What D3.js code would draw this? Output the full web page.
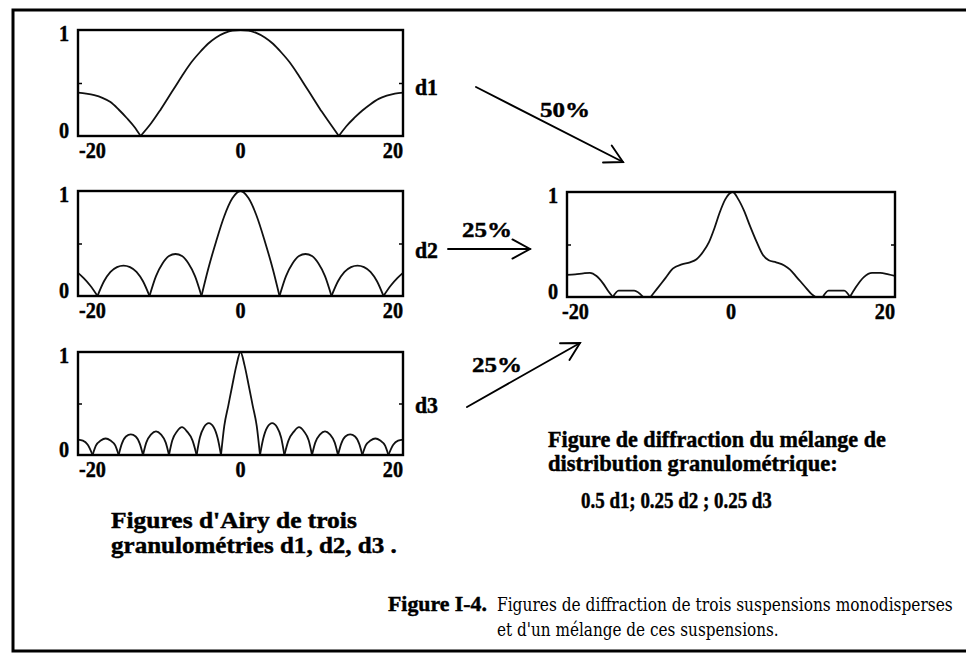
<!DOCTYPE html>
<html><head><meta charset="utf-8">
<script src="https://cdn.jsdelivr.net/npm/d3@7"></script>
<style>body{margin:0;background:#fff}</style>
</head><body>
<svg id="c" width="966" height="662"></svg>
<script>
// ---------- data ----------
const xTicks = [-20, 0, 20];
const yTicks = [0, 1];

// Airy pattern, granulometry d1
const d1 = [[-20,0.41],[-19,0.40],[-18,0.385],[-17,0.36],[-16,0.32],[-15,0.25],[-14,0.17],[-13,0.08],[-12.3,0],
  [-11,0.12],[-10,0.23],[-9,0.35],[-8,0.47],[-7,0.59],[-6,0.70],[-5,0.79],[-4,0.87],[-3,0.93],[-2,0.97],[-1,0.995],[0,1],
  [1,0.995],[2,0.97],[3,0.93],[4,0.87],[5,0.79],[6,0.70],[7,0.59],[8,0.47],[9,0.35],[10,0.23],[11,0.12],[12.1,0],
  [13,0.09],[14,0.17],[15,0.24],[16,0.30],[17,0.35],[18,0.38],[19,0.40],[20,0.41]];

// granulometry d2
const d2 = [[-20,0.22],[-19.3,0.17],[-18.5,0.10],[-17.6,0],
  [-16.8,0.14],[-16.0,0.23],[-15.2,0.275],[-14.4,0.29],[-13.6,0.275],[-12.8,0.23],[-12.0,0.14],[-11.2,0],
  [-10.4,0.19],[-9.6,0.31],[-8.8,0.38],[-8.0,0.40],[-7.2,0.38],[-6.4,0.31],[-5.6,0.19],[-4.8,0],
  [-4,0.25],[-3,0.52],[-2,0.76],[-1,0.93],[0,1],[1,0.93],[2,0.76],[3,0.52],[4,0.25],[4.8,0],
  [5.6,0.19],[6.4,0.31],[7.2,0.38],[8.0,0.40],[8.8,0.38],[9.6,0.31],[10.4,0.19],[11.2,0],
  [12.0,0.14],[12.8,0.23],[13.6,0.275],[14.4,0.29],[15.2,0.275],[16.0,0.23],[16.8,0.14],[17.6,0],
  [18.5,0.10],[19.3,0.17],[20,0.22]];

// granulometry d3
const d3s = [[-20,0.15],[-19.4,0.14],[-18.8,0.10],[-18.2,0],
  [-17.8,0.09],[-17.2,0.14],[-16.6,0.16],[-16.0,0.14],[-15.4,0.09],[-15.0,0],
  [-14.6,0.11],[-14.1,0.18],[-13.5,0.20],[-12.9,0.18],[-12.4,0.11],[-12.0,0],
  [-11.6,0.12],[-11.0,0.20],[-10.4,0.23],[-9.8,0.20],[-9.2,0.12],[-8.8,0],
  [-8.4,0.14],[-7.8,0.23],[-7.2,0.27],[-6.6,0.23],[-5.9,0.14],[-5.4,0],
  [-5.0,0.17],[-4.5,0.27],[-3.9,0.31],[-3.3,0.27],[-2.8,0.16],[-2.4,0],
  [-2,0.28],[-1.5,0.48],[-1,0.68],[-0.5,0.87],[0,1],[0.5,0.87],[1,0.68],[1.5,0.48],[2,0.28],[2.4,0],
  [2.8,0.16],[3.3,0.27],[3.9,0.31],[4.5,0.27],[5.0,0.17],[5.4,0],
  [5.9,0.14],[6.6,0.23],[7.2,0.27],[7.8,0.23],[8.4,0.14],[8.8,0],
  [9.2,0.12],[9.8,0.20],[10.4,0.23],[11.0,0.20],[11.6,0.12],[12.0,0],
  [12.4,0.11],[12.9,0.18],[13.5,0.20],[14.1,0.18],[14.6,0.11],[15.0,0],
  [15.4,0.09],[16.0,0.14],[16.6,0.16],[17.2,0.14],[17.8,0.09],[18.2,0],
  [18.8,0.10],[19.4,0.14],[20,0.15]];

// mixture 0.5 d1 ; 0.25 d2 ; 0.25 d3
const mix = [[-20,0.21],[-19,0.215],[-18,0.225],[-17.2,0.23],[-16.4,0.20],[-15.6,0.13],[-15,0.06],[-14.4,0],
  [-13.7,0.06],[-11.8,0.06],[-10.7,0],[-9.8,0],
  [-9,0.08],[-8,0.18],[-7.1,0.27],[-6,0.31],[-5,0.33],[-4.2,0.36],[-3.4,0.43],[-2.7,0.52],[-2,0.66],[-1.4,0.80],[-0.7,0.93],[0.2,1],
  [0.9,0.93],[1.6,0.82],[2.3,0.68],[3.1,0.53],[3.9,0.40],[4.6,0.35],[5.5,0.33],[6.5,0.30],[7.2,0.26],[8,0.19],[9,0.10],[9.8,0.03],[10.3,0],[11.2,0],
  [11.9,0.06],[13.8,0.06],[14.5,0],
  [15.2,0.09],[16.2,0.19],[17.2,0.23],[18.2,0.23],[19.2,0.215],[20,0.20]];

// ---------- drawing ----------
const svg = d3.select('#c');
const BOLD = "'Liberation Serif','Times New Roman',serif";
const SLAB = "'DejaVu Serif',serif";

// text helper: places a text at (x,y), optionally squeezed horizontally
function label(t, x, y, o){
  const e = svg.append('text').attr('x',0).attr('y',0)
    .attr('font-family',o.family||BOLD).attr('font-weight',o.weight||'bold')
    .attr('font-size',o.size||22).attr('text-anchor',o.anchor||'start').text(t);
  if((o.weight||'bold')==='bold'){ e.attr('stroke','#000').attr('stroke-width',0.45); }
  let sx = o.sx || 1;
  if(o.width){ const w = e.node().getComputedTextLength(); sx = o.width / w; }
  e.attr('transform',`translate(${x},${y}) scale(${sx},1)`);
  return e;
}

// outer frame (open on the right)
svg.append('path').attr('d', 'M966,10 L13,10 L13,651 L966,651')
  .attr('fill','none').attr('stroke','#000').attr('stroke-width',3);

const panels = [
  {data:d1,  x0:78,  x1:403, y0:30,  y1:136, lab:0},
  {data:d2,  x0:78,  x1:403, y0:191, y1:296, lab:0},
  {data:d3s, x0:78,  x1:403, y0:352, y1:455, lab:0},
  {data:mix, x0:567, x1:895, y0:192, y1:297, lab:-6}
];

function splitAtZeros(pts){
  const segs=[]; let cur=[];
  pts.forEach(p=>{ cur.push(p); if(p[1]===0 && cur.length>1){ segs.push(cur); cur=[p]; } });
  if(cur.length>1) segs.push(cur);
  return segs;
}

panels.forEach(p=>{
  const x = d3.scaleLinear().domain([-20,20]).range([p.x0,p.x1]);
  const y = d3.scaleLinear().domain([0,1]).range([p.y1,p.y0]);
  const g = svg.append('g');

  const line = d3.line().x(d=>x(d[0])).y(d=>y(d[1])).curve(d3.curveMonotoneX);
  splitAtZeros(p.data).forEach(seg=>{
    g.append('path').attr('d', line(seg)).attr('fill','none')
      .attr('stroke','#111').attr('stroke-width',1.8).attr('stroke-linejoin','round');
  });

  g.append('rect').attr('x',x(-20)).attr('y',y(1)).attr('width',x(20)-x(-20)).attr('height',y(0)-y(1))
    .attr('fill','none').attr('stroke','#000').attr('stroke-width',2.4);

  const la = g.append('g').attr('transform',`translate(${x(-20)},0)`)
    .call(d3.axisLeft(y).tickValues([0.5]).tickSize(-4).tickFormat(''));
  const ra = g.append('g').attr('transform',`translate(${x(20)},0)`)
    .call(d3.axisRight(y).tickValues([0.5]).tickSize(-4).tickFormat(''));
  [la,ra].forEach(a=>{ a.select('.domain').remove(); a.selectAll('line').attr('stroke','#000').attr('stroke-width',1.5); });

  yTicks.forEach(v=>{
    label(String(v), x(-20)-9, v===1 ? y(1)+11 : y(0)+2, {size:23, sx:0.88, anchor:'end'});
  });
  xTicks.forEach(v=>{
    const anchor = v<0 ? 'start' : (v>0 ? 'end' : 'middle');
    const xx = v<0 ? x(v)+1+p.lab : x(v);
    label(String(v), xx, y(0)+22, {size:23, sx:0.88, anchor});
  });
});

// series labels
[['d1',95],['d2',258],['d3',413]].forEach(([t,yy])=>{
  label(t, 415, yy, {size:23, width:23});
});

// arrows
function arrow(x1,y1,x2,y2){
  const a = Math.atan2(y2-y1, x2-x1), L=20, h=0.5;
  const g = svg.append('g').attr('stroke','#000').attr('stroke-width',1.9).attr('fill','none').attr('stroke-linecap','round');
  g.append('line').attr('x1',x1).attr('y1',y1).attr('x2',x2).attr('y2',y2);
  g.append('path').attr('d',
    `M${x2-L*Math.cos(a-h)},${y2-L*Math.sin(a-h)} L${x2},${y2} L${x2-L*Math.cos(a+h)},${y2-L*Math.sin(a+h)}`);
}
arrow(476,87,623,162);
arrow(448,249,530,249);
arrow(467,407,580,343);

[['50%',540,117],['25%',462,237],['25%',472,372]].forEach(([t,xx,yy])=>{
  label(t, xx, yy, {size:22, width:50});
});

// captions
label("Figures d'Airy de trois",111,528,{size:23,width:246});
label("granulométries d1, d2, d3 .",111,553,{size:23,width:286});
label("Figure de diffraction du mélange de",548,447,{size:23,width:338});
label("distribution granulométrique:",548,471,{size:23,width:290});
label("0.5 d1; 0.25 d2 ; 0.25 d3",581,508,{size:23,width:191});
label("Figure I-4.",388,611,{size:22,width:99});
label("Figures de diffraction de trois suspensions monodisperses",497,611,{family:SLAB,weight:'normal',size:18,width:456});
label("et d'un mélange de ces suspensions.",497,636,{family:SLAB,weight:'normal',size:18,width:282});
</script>
</body></html>
